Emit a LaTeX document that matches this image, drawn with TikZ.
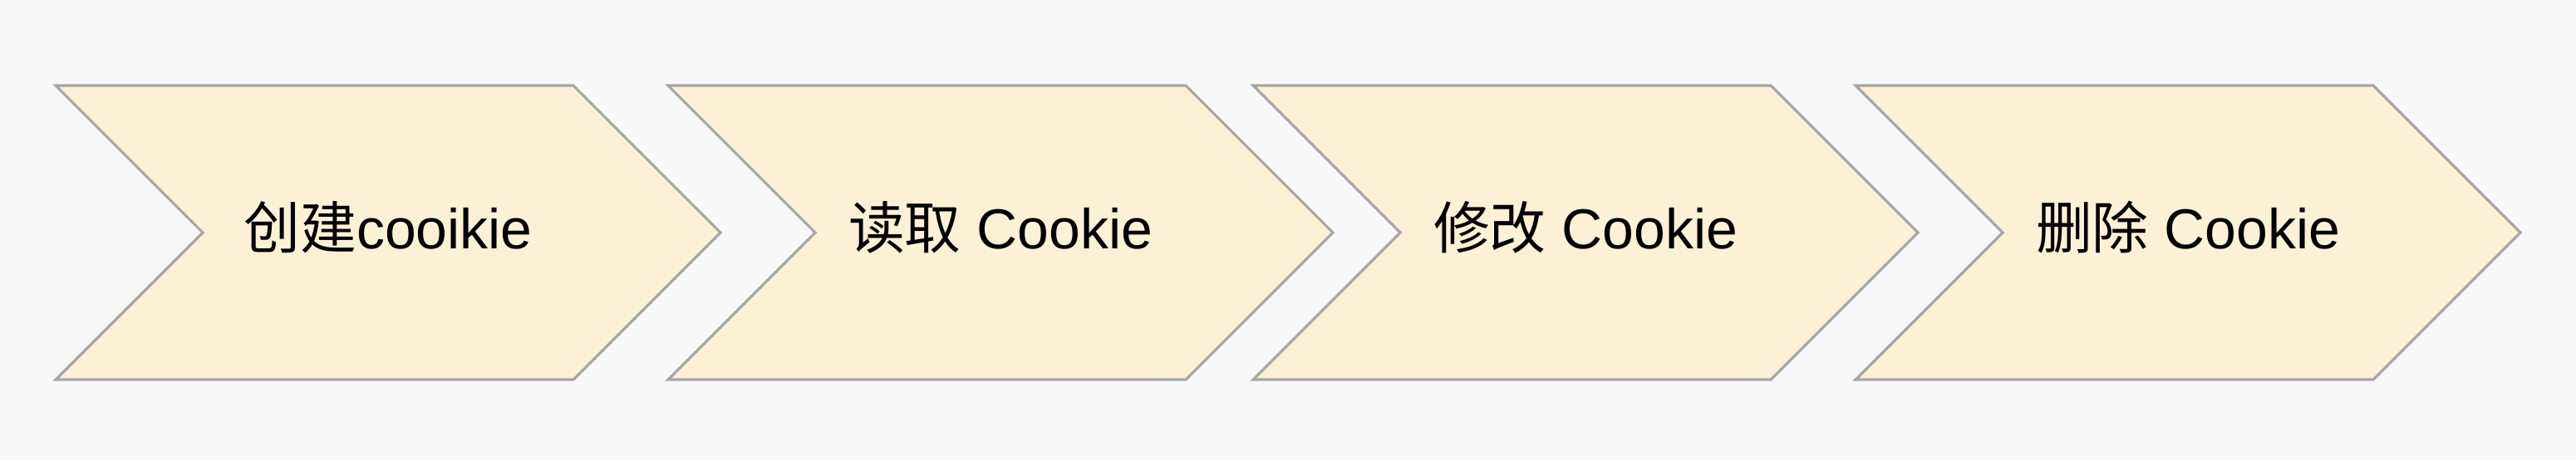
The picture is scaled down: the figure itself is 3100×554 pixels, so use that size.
\documentclass[tikz,border=0pt]{standalone}
\usepackage{fontspec}
\setmainfont{Liberation Sans}
\newfontfamily\cjk{Noto Sans CJK SC}
\definecolor{bgc}{HTML}{F8F8F8}
\definecolor{chevfill}{HTML}{FCF0D6}
\definecolor{chevline}{HTML}{A6A6A6}
\begin{document}
\begin{tikzpicture}[x=0.01cm,y=-0.01cm,
  chevron/.style={fill=chevfill,draw=chevline,line width=0.9pt,line join=miter},
  label/.style={anchor=base,inner sep=0pt,font=\fontsize{19.3}{23}\selectfont,text=black}]
\fill[bgc] (0,0) rectangle (3100,554);
\useasboundingbox (0,0) rectangle (3100,554);
\foreach \L in {67,804,1508,2233}{
  \draw[chevron] (\L,103) -- ++(623,0) -- ++(177,177) -- ++(-177,177) -- ++(-623,0) -- ++(177,-177) -- cycle;
}
\node[label] (c1) at (467,299) {{\cjk 创建}cooikie};
\node[label] (c2) at (1204,299) {{\cjk 读取} Cookie};
\node[label] (c3) at (1908,299) {{\cjk 修改} Cookie};
\node[label] (c4) at (2633,299) {{\cjk 删除} Cookie};
\end{tikzpicture}
\end{document}
